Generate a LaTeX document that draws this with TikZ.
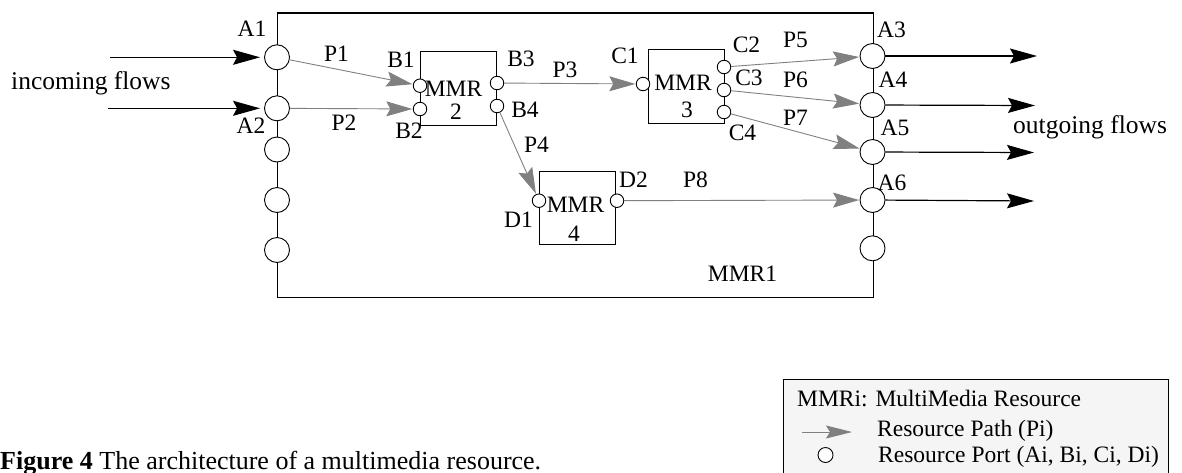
\documentclass[tikz,border=0pt]{standalone}
\usepackage{fontspec}
\setmainfont{Liberation Serif}
\usetikzlibrary{arrows.meta}
\definecolor{pathgray}{RGB}{128,128,128}
\definecolor{legfill}{RGB}{245,245,245}
\begin{document}
\begin{tikzpicture}[x=1pt,y=-1pt,
  port/.style={circle,draw,fill=white,inner sep=0pt,minimum size=25pt,line width=0.9pt},
  sport/.style={circle,draw,fill=white,inner sep=0pt,minimum size=13.5pt,line width=0.9pt},
  lbl/.style={inner sep=0pt,font=\fontsize{23.5}{28}\selectfont},
  bigtxt/.style={inner sep=0pt,anchor=base west,font=\fontsize{25.5}{30}\selectfont},
  legtxt/.style={inner sep=0pt,anchor=base west,font=\fontsize{23.5}{28}\selectfont},
  mbox/.style={draw,line width=1.2pt,inner sep=0pt,anchor=north west},
  rpath/.style={draw=pathgray,line width=0.9pt,-{Stealth[length=26pt,width=15pt,inset=4pt,fill=pathgray,color=pathgray]},shorten >=0.5pt},
  flow/.style={line width=1.2pt,-{Stealth[length=27pt,width=15pt,inset=4pt]}},
]
\useasboundingbox (0,0) rectangle (1182,472);
\clip (0,0) rectangle (1182,472);

% boxes
\node[mbox,minimum width=595.5pt,minimum height=284.4pt] (mmr1) at (277,12.3) {};
\node[mbox,minimum width=76pt,minimum height=74pt] (mmr2) at (420,51) {};
\node[mbox,minimum width=76pt,minimum height=74pt] (mmr3) at (648,49) {};
\node[mbox,minimum width=76pt,minimum height=73pt] (mmr4) at (539,171) {};

% box texts
\node[lbl] (t2a) at (453.5,88.5) {MMR};
\node[lbl] (t2b) at (456,111.5) {2};
\node[lbl] (t3a) at (683,82.5) {MMR};
\node[lbl] (t3b) at (687,110) {3};
\node[lbl] (t4a) at (575.5,205) {MMR};
\node[lbl] (t4b) at (574,233.5) {4};
\node[lbl] (t1) at (742.5,273.5) {MMR1};

% outer ports
\node[port] (A1) at (277,57.3) {};
\node[port] (A2) at (277,108.3) {};
\node[port] (L3) at (277,149.5) {};
\node[port] (L4) at (277,200) {};
\node[port] (L5) at (277,250) {};
\node[port] (A3) at (872.5,56) {};
\node[port] (A4) at (872.5,105) {};
\node[port] (A5) at (872.5,152) {};
\node[port] (A6) at (872.5,200) {};
\node[port] (R5) at (872.5,248.3) {};

% inner ports
\node[sport] (B1) at (420,85.7) {};
\node[sport] (B2) at (420,109) {};
\node[sport] (B3) at (497,83) {};
\node[sport] (B4) at (497,106) {};
\node[sport] (C1) at (643,84) {};
\node[sport] (C2) at (724,67) {};
\node[sport] (C3) at (724,90) {};
\node[sport] (C4) at (724,112) {};
\node[sport] (D1) at (539,200.7) {};
\node[sport] (D2) at (617,200.7) {};

% port labels
\node[lbl] at (252,29) {A1};
\node[lbl] at (251,126) {A2};
\node[lbl] at (891.5,30) {A3};
\node[lbl] at (893,80) {A4};
\node[lbl] at (895,127.5) {A5};
\node[lbl] at (892,182.5) {A6};
\node[lbl] at (401,59.5) {B1};
\node[lbl] at (409,130.5) {B2};
\node[lbl] at (521,59) {B3};
\node[lbl] at (525,109.5) {B4};
\node[lbl] at (625,56) {C1};
\node[lbl] at (746.5,44.5) {C2};
\node[lbl] at (749,77.5) {C3};
\node[lbl] at (742.5,132.5) {C4};
\node[lbl] at (518.5,219.5) {D1};
\node[lbl] at (633.5,179.5) {D2};

% path labels
\node[lbl] at (336.5,53.5) {P1};
\node[lbl] at (344,122.5) {P2};
\node[lbl] at (565,69.5) {P3};
\node[lbl] at (536.5,145) {P4};
\node[lbl] at (795.5,40) {P5};
\node[lbl] at (795.5,79.5) {P6};
\node[lbl] at (795.5,117.5) {P7};
\node[lbl] at (695.5,179.5) {P8};

% resource paths
\draw[rpath] (A1) -- (B1);
\draw[rpath] (A2) -- (B2);
\draw[rpath] (B3) -- (C1);
\draw[rpath] (B4) -- (D1);
\draw[rpath] (C2) -- (A3);
\draw[rpath] (C3) -- (A4);
\draw[rpath] (C4) -- (A5);
\draw[rpath] (D2) -- (A6);

% incoming / outgoing flows
\coordinate (in1) at (110,57.3);
\coordinate (in2) at (108,108.3);
\draw[flow,shorten >=4pt] (in1) -- (A1);
\draw[flow,shorten >=4pt] (in2) -- (A2);
\coordinate (out3) at (1037,56);
\coordinate (out4) at (1035,105.5);
\coordinate (out5) at (1034,152.5);
\coordinate (out6) at (1034,201);
\draw[flow] (A3) -- (out3);
\draw[flow] (A4) -- (out4);
\draw[flow] (A5) -- (out5);
\draw[flow] (A6) -- (out6);
\node[bigtxt] (inc) at (11,89) {incoming flows};
\node[bigtxt] (outg) at (1013,133) {outgoing flows};

% legend
\node[mbox,line width=1pt,fill=legfill,minimum width=385pt,minimum height=120pt] (leg) at (783,379) {};
\node[legtxt] (l1) at (797,406) {MMRi: MultiMedia Resource};
\coordinate (la1) at (802,432);
\coordinate (la2) at (852,432);
\draw[draw=pathgray,line width=0.9pt,-{Stealth[length=26pt,width=13pt,inset=4pt,fill=pathgray,color=pathgray]}] (la1) -- (la2);
\node[legtxt] (l2) at (877,436) {Resource Path (Pi)};
\node[sport,minimum size=15pt] (lc) at (825.5,455) {};
\node[legtxt] (l3) at (878,462) {Resource Port (Ai, Bi, Ci, Di)};

% caption
\node[bigtxt,font=\fontsize{26}{30}\selectfont] (cap) at (0,469.5) {\textbf{Figure 4} The architecture of a multimedia resource.};
\end{tikzpicture}
\end{document}
